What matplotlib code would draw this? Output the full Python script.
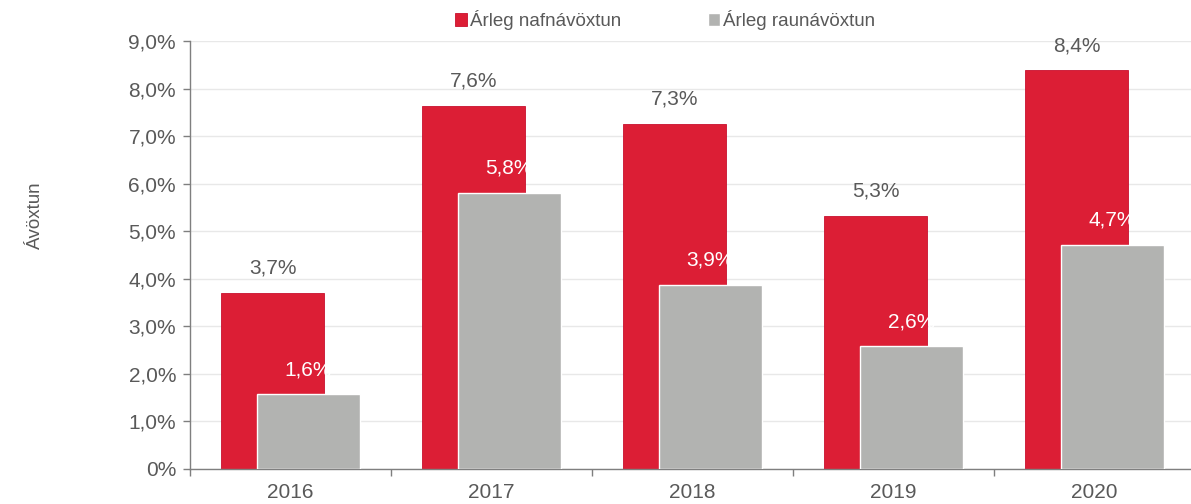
import matplotlib
matplotlib.use("Agg")
import matplotlib.pyplot as plt
import numpy as np

years = ["2016", "2017", "2018", "2019", "2020"]
nominal = [3.70, 7.64, 7.26, 5.33, 8.38]
real = [1.57, 5.81, 3.87, 2.58, 4.72]
series_names = ["Árleg nafnávöxtun", "Árleg raunávöxtun"]
y_ticks = [0, 1, 2, 3, 4, 5, 6, 7, 8, 9]

plt.rcParams['font.family'] = ['Liberation Sans', 'DejaVu Sans']
TXT = '#595959'
RED = '#DC1E35'
GRAY = '#B2B3B1'

fig = plt.figure(figsize=(11.91, 5.04), dpi=100)
W, H = 1191, 504
left, right, top, bottom = 190, 1195, 41, 469
ax = fig.add_axes([left / W, 1 - bottom / H, (right - left) / W, (bottom - top) / H])

x = np.arange(len(years))
off = 0.0886
bw = 0.515
ax.bar(x - off, nominal, width=bw, color=RED, edgecolor='#C8102E', linewidth=0.6, zorder=2,
       label=series_names[0])
ax.bar(x + off, real, width=bw, color=GRAY, edgecolor='white', linewidth=1.0, zorder=3,
       label=series_names[1])

def fmt(v):
    return f"{v:.1f}".replace('.', ',') + '%'

for xi, v in zip(x, nominal):
    ax.annotate(fmt(v), (xi - off, v), xytext=(0, 11), textcoords='offset points',
                ha='center', va='bottom', fontsize=15, color=TXT, zorder=5)
for xi, v in zip(x, real):
    ax.annotate(fmt(v), (xi + off, v), xytext=(0, 11), textcoords='offset points',
                ha='center', va='bottom', fontsize=15, color='white', zorder=5)

ax.set_xlim(-0.5, len(years) - 0.5)
ax.set_ylim(0, 9)
ax.set_yticks(y_ticks)
ax.set_yticklabels(['0%'] + [f"{t},0%" for t in y_ticks[1:]], fontsize=15, color=TXT)
ax.set_xticks(x)
ax.set_xticklabels(years, fontsize=15, color=TXT)
ax.set_xticks(np.arange(-0.5, len(years), 1), minor=True)
ax.tick_params(axis='x', which='major', length=0, pad=10)
ax.tick_params(axis='x', which='minor', length=5, color='#7F7F7F', width=1)
ax.tick_params(axis='y', length=5, color='#7F7F7F', width=1, pad=5)
ax.grid(axis='y', color='#E8E8E8', linewidth=1, zorder=0)
ax.set_axisbelow(True)
for s in ['top', 'right']:
    ax.spines[s].set_visible(False)
for s in ['left', 'bottom']:
    ax.spines[s].set_color('#7F7F7F')
    ax.spines[s].set_linewidth(1)

fig.text(35 / W, 1 - 215 / H, "Ávöxtun", rotation=90, ha='center', va='center',
         fontsize=13.5, color=TXT)

leg = fig.legend(loc='center', bbox_to_anchor=(665 / W, 1 - 20 / H), ncol=2, frameon=False,
                 fontsize=13.5, labelcolor=TXT, handlelength=0.65, handleheight=0.65,
                 handletextpad=0.15, columnspacing=4.6)

fig.savefig("out.png", dpi=100)
